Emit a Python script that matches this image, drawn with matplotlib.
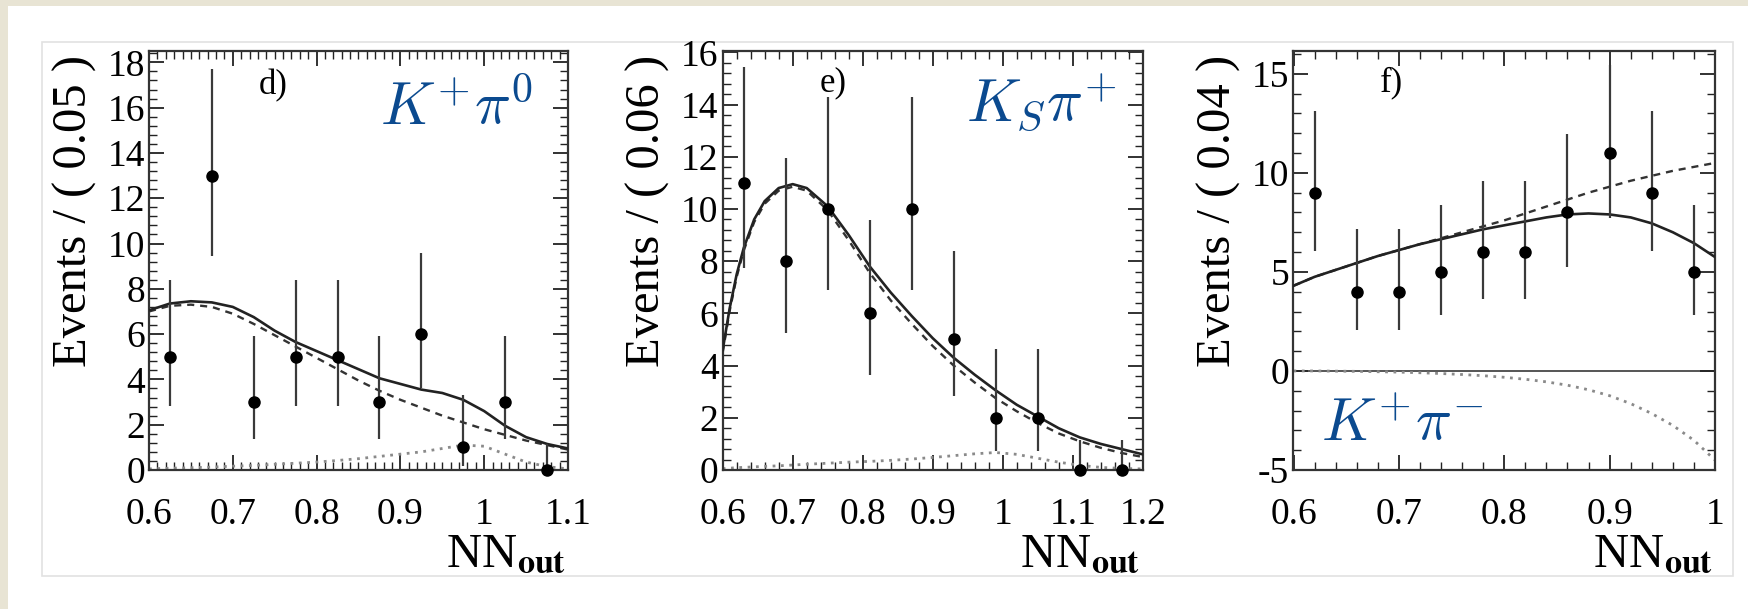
import numpy as np
import matplotlib
matplotlib.use("Agg")
import matplotlib.pyplot as plt
from matplotlib.patches import Rectangle
from matplotlib.ticker import MultipleLocator

# ---- data -----------------------------------------------------------------
# panel d) K+ pi0, bins of 0.05
d_x = [0.625, 0.675, 0.725, 0.775, 0.825, 0.875, 0.925, 0.975, 1.025, 1.075]
d_n = [5, 13, 3, 5, 5, 3, 6, 1, 3, 0]
d_lo = [2.16, 3.56, 1.63, 2.16, 2.16, 1.63, 2.38, 0.83, 1.63, 0.0]
d_hi = [3.38, 4.70, 2.92, 3.38, 3.38, 2.92, 3.58, 2.30, 2.92, 1.15]
d_cx = [0.600, 0.625, 0.650, 0.675, 0.700, 0.725, 0.750, 0.775, 0.800, 0.825, 0.850,
        0.875, 0.900, 0.925, 0.950, 0.975, 1.000, 1.025, 1.050, 1.075, 1.100]
d_total = [7.05, 7.35, 7.45, 7.4, 7.2, 6.75, 6.15, 5.65, 5.25, 4.85, 4.45,
           4.05, 3.8, 3.55, 3.4, 3.1, 2.6, 1.95, 1.45, 1.15, 0.95]
d_bkg = [7.0, 7.25, 7.3, 7.2, 6.9, 6.45, 5.95, 5.45, 4.95, 4.45, 3.95,
         3.5, 3.1, 2.75, 2.4, 2.1, 1.8, 1.55, 1.3, 1.1, 0.9]
d_sig = [0.05, 0.08, 0.1, 0.13, 0.17, 0.2, 0.25, 0.3, 0.35, 0.42, 0.5,
         0.6, 0.7, 0.8, 0.95, 1.1, 1.05, 0.7, 0.35, 0.15, 0.05]

# panel e) K_S pi+, bins of 0.06
e_x = [0.63, 0.69, 0.75, 0.81, 0.87, 0.93, 0.99, 1.05, 1.11, 1.17]
e_n = [11, 8, 10, 6, 10, 5, 2, 2, 0, 0]
e_lo = [3.27, 2.77, 3.11, 2.38, 3.11, 2.16, 1.29, 1.29, 0.0, 0.0]
e_hi = [4.42, 3.94, 4.27, 3.58, 4.27, 3.38, 2.64, 2.64, 1.15, 1.15]
e_cx = [0.60, 0.61, 0.62, 0.63, 0.645, 0.66, 0.68, 0.70, 0.72, 0.75, 0.78, 0.81,
        0.84, 0.87, 0.90, 0.93, 0.96, 0.99, 1.02, 1.05, 1.08, 1.11, 1.14, 1.17, 1.20]
e_total = [4.6, 6.2, 7.5, 8.5, 9.6, 10.3, 10.8, 10.95, 10.8, 10.1, 9.0, 7.8,
           6.8, 5.9, 5.05, 4.3, 3.65, 3.05, 2.5, 2.05, 1.6, 1.25, 1.0, 0.8, 0.6]
e_bkg = [4.5, 6.1, 7.4, 8.4, 9.5, 10.2, 10.7, 10.85, 10.7, 9.95, 8.8, 7.55,
         6.5, 5.6, 4.75, 4.0, 3.35, 2.75, 2.25, 1.8, 1.4, 1.1, 0.85, 0.65, 0.5]
e_sig = [0.05, 0.07, 0.09, 0.1, 0.12, 0.14, 0.16, 0.19, 0.22, 0.26, 0.3, 0.33,
         0.37, 0.42, 0.48, 0.55, 0.62, 0.67, 0.6, 0.45, 0.3, 0.18, 0.1, 0.06, 0.04]

# panel f) K+ pi-, bins of 0.04
f_x = [0.62, 0.66, 0.70, 0.74, 0.78, 0.82, 0.86, 0.90, 0.94, 0.98]
f_n = [9, 4, 4, 5, 6, 6, 8, 11, 9, 5]
f_lo = [2.95, 1.91, 1.91, 2.16, 2.38, 2.38, 2.77, 3.27, 2.95, 2.16]
f_hi = [4.11, 3.16, 3.16, 3.38, 3.58, 3.58, 3.94, 4.42, 4.11, 3.38]
f_cx = [0.60, 0.62, 0.64, 0.66, 0.68, 0.70, 0.72, 0.74, 0.76, 0.78, 0.80,
        0.82, 0.84, 0.86, 0.88, 0.90, 0.92, 0.94, 0.96, 0.98, 1.00]
f_total = [4.3, 4.75, 5.1, 5.45, 5.8, 6.1, 6.4, 6.65, 6.9, 7.15, 7.35,
           7.55, 7.75, 7.9, 7.95, 7.9, 7.75, 7.45, 7.0, 6.45, 5.75]
f_bkg = [4.3, 4.75, 5.1, 5.45, 5.8, 6.1, 6.4, 6.7, 7.0, 7.3, 7.6,
         7.95, 8.3, 8.65, 9.0, 9.3, 9.6, 9.85, 10.1, 10.3, 10.5]
f_sig = [0.0, 0.0, -0.01, -0.02, -0.04, -0.06, -0.09, -0.13, -0.18, -0.24, -0.32,
         -0.42, -0.55, -0.72, -0.95, -1.25, -1.65, -2.15, -2.75, -3.5, -4.5]

# ---- style -----------------------------------------------------------------
plt.rcParams["font.family"] = "serif"
plt.rcParams["font.serif"] = ["Liberation Serif", "DejaVu Serif"]
plt.rcParams["mathtext.fontset"] = "cm"
plt.rcParams["axes.unicode_minus"] = False

BLUE = "#0b4a8f"
INK = "#222222"

fig = plt.figure(figsize=(17.49, 6.09), dpi=100)
fig.patch.set_facecolor("#e8e4d4")
# white card with a faint inner frame
fig.add_artist(Rectangle((8 / 1749, 0), 1, 1 - 6 / 609, transform=fig.transFigure,
                         facecolor="white", edgecolor="none", zorder=-10))
fig.add_artist(Rectangle((42 / 1749, 1 - 576 / 609), (1733 - 42) / 1749, (576 - 42) / 609,
                         transform=fig.transFigure, facecolor="none",
                         edgecolor="#e2e2e2", lw=1.2, zorder=-9))

bottom, height = 1 - 470 / 609, (470 - 51) / 609
panels = [
    dict(rect=[149 / 1749, bottom, 419 / 1749, height], x=d_x, n=d_n, lo=d_lo, hi=d_hi,
         cx=d_cx, tot=d_total, bkg=d_bkg, sig=d_sig, xlim=(0.6, 1.1), ylim=(0, 18.5),
         xminor=0.01, ymajor=2, yminor=0.4, ylabel="Events / ( 0.05 )", tag="d)",
         tagpos=(0.296, 0.918), chan=r"$K^{+}\pi^{0}$", chanpos=(0.918, 0.821), chanha="right"),
    dict(rect=[722.7 / 1749, bottom, 420 / 1749, height], x=e_x, n=e_n, lo=e_lo, hi=e_hi,
         cx=e_cx, tot=e_total, bkg=e_bkg, sig=e_sig, xlim=(0.6, 1.2), ylim=(0, 16.05),
         xminor=0.02, ymajor=2, yminor=0.4, ylabel="Events / ( 0.06 )", tag="e)",
         tagpos=(0.262, 0.925), chan=r"$K_{S}\pi^{+}$", chanpos=(0.937, 0.834), chanha="right"),
    dict(rect=[1293.5 / 1749, bottom, 421.5 / 1749, height], x=f_x, n=f_n, lo=f_lo, hi=f_hi,
         cx=f_cx, tot=f_total, bkg=f_bkg, sig=f_sig, xlim=(0.6, 1.0), ylim=(-5, 16.15),
         xminor=0.02, ymajor=5, yminor=1, ylabel="Events / ( 0.04 )", tag="f)",
         tagpos=(0.232, 0.925), chan=r"$K^{+}\pi^{-}$", chanpos=(0.065, 0.069), chanha="left"),
]

for p in panels:
    ax = fig.add_axes(p["rect"])
    ax.set_xlim(*p["xlim"])
    ax.set_ylim(*p["ylim"])

    if p["ylim"][0] < 0:
        ax.axhline(0, color="#555555", lw=1.4, zorder=1)

    ax.plot(p["cx"], p["sig"], color="#8a8a8a", lw=2.0, linestyle=(0, (1, 2.0)), zorder=2)
    ax.plot(p["cx"], p["bkg"], color="#333333", lw=1.7, linestyle=(0, (3, 2.5)), zorder=3)
    ax.plot(p["cx"], p["tot"], color="#222222", lw=1.9, zorder=4)
    ax.errorbar(p["x"], p["n"], yerr=[p["lo"], p["hi"]], fmt="o", color="black",
                ecolor="#3a3a3a", elinewidth=1.6, markersize=8, capsize=0, zorder=5,
                clip_on=False)

    ax.xaxis.set_major_locator(MultipleLocator(0.1))
    ax.xaxis.set_minor_locator(MultipleLocator(p["xminor"]))
    ax.yaxis.set_major_locator(MultipleLocator(p["ymajor"]))
    ax.yaxis.set_minor_locator(MultipleLocator(p["yminor"]))
    ax.xaxis.set_major_formatter(plt.FuncFormatter(lambda v, _: f"{v:g}"))
    ax.yaxis.set_major_formatter(plt.FuncFormatter(lambda v, _: f"{v:g}"))
    ax.tick_params(which="both", direction="in", top=True, right=True, colors=INK)
    ax.tick_params(which="major", length=11, width=1.3, labelsize=27, labelcolor="black")
    ax.tick_params(which="minor", length=5.5, width=1.0)
    ax.tick_params(axis="x", which="major", pad=20)
    ax.tick_params(axis="y", which="major", pad=3)
    for sp in ax.spines.values():
        sp.set_color("#333333")
        sp.set_linewidth(1.6)

    ax.text(-0.177, 0.99, p["ylabel"], transform=ax.transAxes, rotation=90,
            ha="center", va="top", fontsize=35)
    ax.text(0.995, -0.15, r"NN$_{\mathbf{out}}$", transform=ax.transAxes, ha="right",
            va="top", fontsize=35, math_fontfamily="stix")
    ax.text(p["tagpos"][0], p["tagpos"][1], p["tag"], transform=ax.transAxes,
            ha="center", va="center", fontsize=25)
    ax.text(p["chanpos"][0], p["chanpos"][1], p["chan"], transform=ax.transAxes,
            ha=p["chanha"], va="baseline", fontsize=43, color=BLUE)

fig.savefig("out.png", dpi=100, facecolor=fig.get_facecolor())
